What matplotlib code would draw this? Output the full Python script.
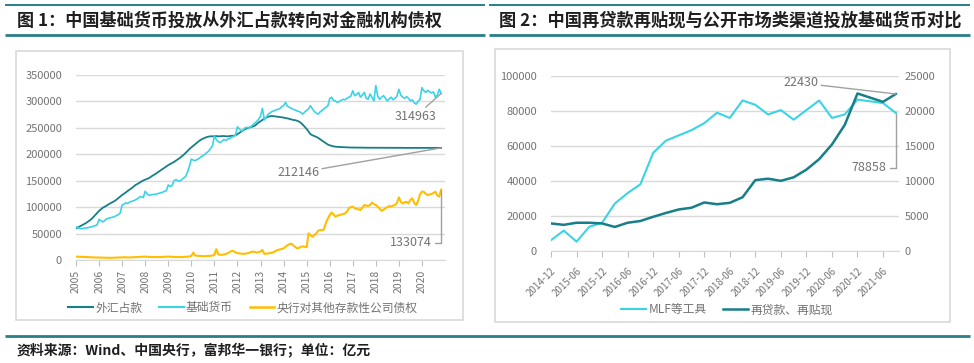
import matplotlib
matplotlib.use("Agg")
import matplotlib.pyplot as plt
from matplotlib.lines import Line2D
from matplotlib.patches import Rectangle
import numpy as np

plt.rcParams['font.family'] = ['Noto Sans CJK SC', 'DejaVu Sans']

# ---------------- Figure 1 data (monthly, 亿元) ----------------
years1 = ["2005", "2006", "2007", "2008", "2009", "2010", "2011", "2012",
          "2013", "2014", "2015", "2016", "2017", "2018", "2019", "2020"]

fx_reserve = [
    60000, 61500, 63500, 65500, 67500, 69500, 72000, 74500, 77500, 81000, 85000, 89000,
    93000, 96000, 99000, 101000, 103000, 105500, 107500, 109500, 111500, 114000, 117000, 120000,
    123000, 125500, 128000, 131000, 133500, 136000, 139000, 142000, 144000, 146000, 148500, 150500,
    152000, 153500, 155000, 157500, 160000, 162000, 164500, 167000, 169500, 172000, 174500, 177000,
    179500, 181500, 183500, 185500, 188000, 190500, 193000, 196000, 199000, 202500, 206000, 210000,
    213000, 216000, 219000, 222000, 225000, 227500, 229500, 231000, 232500, 233500, 234000, 234000,
    234000, 234500, 234000, 234000, 234500, 234500, 234000, 234000, 234500, 235000, 235000, 236000,
    238000, 240500, 243000, 245500, 247500, 249000, 250500, 251500, 252500, 254000, 257000, 260000,
    262500, 265000, 267500, 269500, 271000, 272000, 272500, 272000, 271500, 271000, 270500, 270000,
    269500, 268500, 268000, 267000, 266000, 265000, 264500, 263500, 262000, 259500, 256000, 252000,
    248000, 243000, 238000, 236000, 234500, 233000, 231000, 228500, 226000, 223500, 221000, 218500,
    217000, 216000, 215000, 214300, 214000, 213800, 213600, 213400, 213200, 213000, 212900, 212800,
    212800, 212700, 212700, 212600, 212600, 212500, 212500, 212500, 212400, 212400, 212400, 212400,
    212300, 212300, 212300, 212300, 212300, 212300, 212200, 212200, 212200, 212200, 212200, 212200,
    212200, 212200, 212100, 212100, 212100, 212100, 212100, 212100, 212100, 212100, 212100, 212100,
    212100, 212100, 212100, 212100, 212100, 212100, 212100, 212100, 212100, 212100, 212146,
]

base_money = [
    63000, 61000, 59500, 59000, 60000, 60500, 61000, 62000, 62500, 64000, 65000, 66500,
    77000, 74000, 72000, 75000, 78000, 79000, 80000, 81000, 82000, 84000, 86000, 89000,
    104000, 106000, 108000, 107000, 110000, 111000, 112000, 114000, 116000, 119000, 120000, 118000,
    130000, 125000, 122000, 123000, 124000, 124000, 125000, 126000, 127000, 128000, 130000, 131000,
    142000, 139000, 141000, 150000, 152000, 150000, 149000, 152000, 155000, 158000, 166000, 177000,
    191000, 189000, 188000, 190000, 192000, 195000, 197000, 200000, 203000, 206000, 211000, 216000,
    234000, 228000, 224000, 222000, 225000, 228000, 226000, 229000, 230000, 232000, 234000, 236000,
    252000, 248000, 244000, 246000, 250000, 251000, 249000, 252000, 256000, 259000, 262000, 266000,
    272000, 287000, 265000, 270000, 276000, 278000, 281000, 282000, 284000, 285000, 286000, 290000,
    292000, 298000, 291000, 289000, 287000, 285000, 284000, 282000, 281000, 279000, 276000, 280000,
    283000, 286000, 292000, 286000, 281000, 278000, 276000, 280000, 283000, 286000, 289000, 291000,
    305000, 308000, 302000, 301000, 298000, 300000, 302000, 304000, 303000, 306000, 308000, 310000,
    320000, 311000, 313000, 317000, 308000, 312000, 317000, 306000, 304000, 314000, 308000, 301000,
    330000, 310000, 304000, 308000, 311000, 306000, 301000, 305000, 308000, 303000, 306000, 310000,
    323000, 312000, 308000, 306000, 309000, 306000, 301000, 303000, 297000, 295000, 300000, 304000,
    326000, 320000, 317000, 321000, 318000, 316000, 318000, 308000, 312000, 323000, 314963,
]

claims_odc = [
    6500, 6300, 6000, 5800, 5600, 5500, 5300, 5100, 5000, 4900, 4800, 4700,
    4500, 4300, 4200, 4100, 4000, 4000, 4100, 4200, 4300, 4500, 4600, 4800,
    5000, 5200, 5000, 4800, 4900, 5000, 5200, 5400, 5600, 5800, 6000, 6200,
    6500, 6000, 5800, 5700, 5600, 5500, 5400, 5500, 5600, 5800, 6000, 6300,
    6500, 6200, 6000, 5800, 5600, 5500, 5500, 5600, 5800, 6000, 6300, 6700,
    7500, 14000, 8500, 8000, 7800, 7500, 7300, 7200, 7400, 7600, 8000, 8500,
    10000, 20500, 10500, 10000, 9800, 10500, 11500, 13000, 15000, 17500, 16500, 14500,
    13000, 12500, 12000, 11500, 12000, 12600, 13500, 15000, 15800, 15500, 14000, 15000,
    16000, 19000, 11500, 12000, 12500, 13000, 14000, 15000, 17600, 19000, 20000, 21000,
    22000, 25000, 28000, 30000, 31000, 28000, 25000, 22000, 23000, 25000, 26000, 25000,
    24000, 50500, 47000, 44000, 47000, 50500, 55000, 57000, 56000, 58000, 70000, 78000,
    85000, 90000, 86000, 82000, 84000, 85000, 86000, 87000, 88000, 92000, 98000, 100000,
    101000, 98000, 97000, 96000, 94600, 99000, 104000, 103000, 102000, 104000, 108500, 106000,
    104000, 101000, 97000, 93000, 95000, 98000, 100000, 102000, 101000, 103000, 104000, 108000,
    118500, 110000, 107000, 109000, 110000, 107000, 114000, 116600, 108000, 104000, 112000, 124000,
    129500, 129000, 125000, 123000, 124000, 125000, 127000, 129000, 122000, 120000, 133074,
]
yticks1 = [0, 50000, 100000, 150000, 200000, 250000, 300000, 350000]
legend1 = ["外汇占款", "基础货币", "央行对其他存款性公司债权"]

# ---------------- Figure 2 data (quarterly, 亿元) ----------------
quarters2 = ["2014-12", "2015-03", "2015-06", "2015-09", "2015-12", "2016-03", "2016-06",
             "2016-09", "2016-12", "2017-03", "2017-06", "2017-09", "2017-12", "2018-03",
             "2018-06", "2018-09", "2018-12", "2019-03", "2019-06", "2019-09", "2019-12",
             "2020-03", "2020-06", "2020-09", "2020-12", "2021-03", "2021-06", "2021-09"]
mlf_tools = [6000, 11500, 5200, 13700, 16000, 27000, 33000, 38000, 56000, 63000, 66000, 69000,
             73000, 79000, 76000, 86000, 83500, 78000, 80500, 75000, 80500, 86000, 76000, 78000,
             86500, 85500, 84500, 78858]
relending = [3900, 3700, 4000, 4000, 3900, 3400, 4000, 4250, 4850, 5400, 5900, 6150,
             6900, 6650, 6850, 7650, 10100, 10300, 10000, 10500, 11600, 13100, 15200, 18000,
             22500, 21900, 21300, 22430]
yticks2_left = [0, 20000, 40000, 60000, 80000, 100000]
yticks2_right = [0, 5000, 10000, 15000, 20000, 25000]
legend2 = ["MLF等工具", "再贷款、再贴现"]

title1 = "图 1：中国基础货币投放从外汇占款转向对金融机构债权"
title2 = "图 2：中国再贷款再贴现与公开市场类渠道投放基础货币对比"
source = "资料来源：Wind、中国央行，富邦华一银行；单位：亿元"

# ---------------- styles ----------------
DARK = "#167f88"
CYAN = "#3bd3e6"
GOLD = "#ffbf00"
RULE = "#2a7f87"
GRID = "#d9d9d9"
TXT = "#737373"
ANN = "#a0a0a0"

W, H = 974, 363
fig = plt.figure(figsize=(W / 100, H / 100), dpi=100)


def fx_(px):
    return px / W


def fy_(py):
    return 1 - py / H


def hline(x0, x1, y, lw):
    fig.add_artist(Line2D([fx_(x0), fx_(x1)], [fy_(y), fy_(y)], transform=fig.transFigure,
                          color=RULE, lw=lw, solid_capstyle="butt"))


# rules
hline(5, 485, 5, 1.4)
hline(489, 970, 5, 1.4)
hline(5, 485, 34.5, 2.0)
hline(489, 970, 34.5, 2.0)
hline(5, 970, 336, 2.0)

# panel frames
for (x0, y0, x1, y1) in [(16, 51, 463, 320), (495, 49, 950, 322)]:
    fig.add_artist(Rectangle((fx_(x0), fy_(y1)), fx_(x1 - x0), (y1 - y0) / H,
                             transform=fig.transFigure, fill=False, edgecolor=GRID, lw=1.2))

fig.text(fx_(17), fy_(20.5), title1, fontsize=12.3, fontweight="bold", color="#1f1f1f",
         ha="left", va="center")
fig.text(fx_(499), fy_(20.5), title2, fontsize=12.4, fontweight="bold", color="#1f1f1f",
         ha="left", va="center")
fig.text(fx_(17), fy_(350), source, fontsize=10, fontweight="bold", color="#1f1f1f",
         ha="left", va="center")


def style_axis(ax):
    for s in ["top", "right", "left"]:
        ax.spines[s].set_visible(False)
    ax.spines["bottom"].set_color(GRID)
    ax.grid(axis="y", color=GRID, lw=1)
    ax.set_axisbelow(True)
    ax.tick_params(axis="y", length=0, labelcolor=TXT)
    ax.tick_params(axis="x", length=4, color="#bfbfbf", labelcolor=TXT)


# ---------------- Axes 1 ----------------
ax1 = fig.add_axes([fx_(76), fy_(260), fx_(369), 185 / H])
x1 = np.arange(len(fx_reserve))
ax1.plot(x1, fx_reserve, color=DARK, lw=1.3)
ax1.plot(x1, base_money, color=CYAN, lw=1.2)
ax1.plot(x1, claims_odc, color=GOLD, lw=1.5)
ax1.set_xlim(0, 192)
ax1.set_ylim(0, 350000)
style_axis(ax1)
ax1.set_yticks(yticks1)
ax1.set_yticklabels([str(v) for v in yticks1], fontsize=8)
ax1.tick_params(axis="y", pad=10)
ax1.set_xticks(np.arange(len(years1)) * 12)
ax1.set_xticklabels(years1, rotation=90, fontsize=7.5)
ax1.tick_params(axis="x", pad=3)

annkw = dict(textcoords="offset pixels", fontsize=9, color=TXT, va="center")
ax1.annotate(f"{base_money[-1]}", xy=(x1[-1], base_money[-1]), xytext=(-26, -23), ha="center",
             arrowprops=dict(arrowstyle="-", color=ANN, lw=1, shrinkA=0, shrinkB=0), **annkw)
ax1.annotate(f"{fx_reserve[-1]}", xy=(x1[-1], fx_reserve[-1]), xytext=(-143, -25), ha="center",
             arrowprops=dict(arrowstyle="-", color=ANN, lw=1, shrinkA=0, shrinkB=0), **annkw)
ax1.annotate(f"{claims_odc[-1]}", xy=(x1[-1], claims_odc[-1]), xytext=(-9, -53), ha="right",
             arrowprops=dict(arrowstyle="-", color=ANN, lw=1, shrinkA=0, shrinkB=0,
                             connectionstyle="angle,angleA=0,angleB=90,rad=0"), **annkw)

h1 = [Line2D([], [], color=DARK, lw=1.5), Line2D([], [], color=CYAN, lw=1.5),
      Line2D([], [], color=GOLD, lw=1.8)]
fig.legend(h1, legend1, loc="center", bbox_to_anchor=(fx_(243), fy_(308)), ncol=3,
           frameon=False, fontsize=8.5, handlelength=2.1, handletextpad=0.2,
           columnspacing=1.4, labelcolor=TXT)

# ---------------- Axes 2 ----------------
ax2 = fig.add_axes([fx_(551), fy_(250.7), fx_(348), 174.7 / H])
ax2r = ax2.twinx()
x2 = np.arange(len(quarters2))
ax2.plot(x2, mlf_tools, color=CYAN, lw=1.5)
ax2r.plot(x2, relending, color=DARK, lw=1.8)
ax2.set_xlim(0, 27.25)
ax2.set_ylim(0, 100000)
ax2r.set_ylim(0, 25000)
style_axis(ax2)
for s in ["top", "right", "left", "bottom"]:
    ax2r.spines[s].set_visible(False)
ax2.set_yticks(yticks2_left)
ax2.set_yticklabels([str(v) for v in yticks2_left], fontsize=8)
ax2.tick_params(axis="y", pad=10)
ax2r.set_yticks(yticks2_right)
ax2r.set_yticklabels([str(v) for v in yticks2_right], fontsize=8)
ax2r.tick_params(axis="y", length=0, pad=4, labelcolor=TXT)
ax2.set_xticks(x2[::2])
ax2.set_xticklabels(quarters2[::2], rotation=45, ha="right", rotation_mode="anchor", fontsize=7)
ax2.tick_params(axis="x", pad=7)

ax2r.annotate(f"{relending[-1]}", xy=(x2[-1], relending[-1]), xytext=(-95, 11), ha="center",
              arrowprops=dict(arrowstyle="-", color=ANN, lw=1, shrinkA=0, shrinkB=0), **annkw)
ax2r.annotate(f"{mlf_tools[-1]}", xy=(x2[-1], mlf_tools[-1] / 4), xytext=(-9, -55), ha="right",
              arrowprops=dict(arrowstyle="-", color=ANN, lw=1, shrinkA=0, shrinkB=0,
                              connectionstyle="angle,angleA=0,angleB=90,rad=0"), **annkw)

h2 = [Line2D([], [], color=CYAN, lw=1.5), Line2D([], [], color=DARK, lw=1.8)]
fig.legend(h2, legend2, loc="center", bbox_to_anchor=(fx_(727), fy_(310)), ncol=2,
           frameon=False, fontsize=8.5, handlelength=2.1, handletextpad=0.2,
           columnspacing=1.4, labelcolor=TXT)

fig.savefig("out.png", dpi=100)
